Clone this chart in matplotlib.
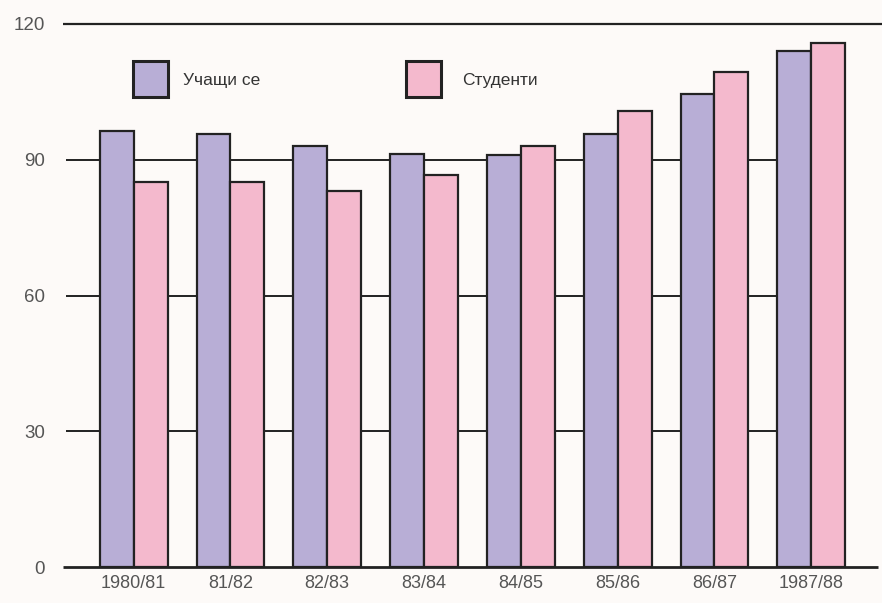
"""
Учащи се / Студенти, 1980/81 - 1987/88 (grouped bars)
"""

import matplotlib.pyplot as plt
from matplotlib.patches import Rectangle
import numpy as np

plt.rcParams['font.family'] = ['Liberation Sans', 'DejaVu Sans']

years = ["1980/81", "81/82", "82/83", "83/84", "84/85", "85/86", "86/87", "1987/88"]
ucasti = [96.4, 95.6, 93.0, 91.3, 91.0, 95.8, 104.5, 114.0]
studenti = [85.0, 85.0, 83.2, 86.6, 93.0, 100.8, 109.3, 115.8]
yticks = [0, 30, 60, 90, 120]
labels = ["Учащи се", "Студенти"]

purple = "#b8aed6"
pink = "#f4b9cd"
bg = "#fdfaf8"
grey = "#555555"

fig = plt.figure(figsize=(8.82, 6.03), dpi=100, facecolor=bg)
ax = fig.add_axes([63 / 882, 1 - 567 / 603, 815 / 882, 543 / 603])
ax.set_facecolor(bg)

x = np.arange(len(years))
w = 0.35
ax.bar(x - w / 2, ucasti, w, color=purple, edgecolor="#222222", linewidth=1.6, zorder=3)
ax.bar(x + w / 2, studenti, w, color=pink, edgecolor="#222222", linewidth=1.6, zorder=3)

ax.set_xlim(-0.73, 7.69)
ax.set_ylim(0, 120)

# grid lines stop where the last group starts
last_left = x[-1] - w
for t in yticks[1:-1]:
    ax.hlines(t, -0.7, last_left, color="#222222", linewidth=1.4, zorder=1)
ax.hlines(120, -0.73, 7.8, color="#222222", linewidth=1.6, zorder=1, clip_on=False)
ax.hlines(0, -0.73, 7.69, color="#222222", linewidth=2.0, zorder=4, clip_on=False)

for s in ax.spines.values():
    s.set_visible(False)

ax.set_yticks(yticks)
ax.set_yticklabels([str(t) for t in yticks], fontsize=13.5, color=grey)
ax.set_xticks(x)
ax.set_xticklabels(years, fontsize=13, color=grey)
ax.tick_params(axis="both", length=0)
ax.tick_params(axis="y", pad=21 - 8)
ax.tick_params(axis="x", pad=6)

# legend boxes
for x0, col, lab, tx in [(133, purple, labels[0], 183), (406, pink, labels[1], 462)]:
    ax.add_patch(Rectangle(((x0 - 63) / 815, (567 - 97) / 543), 35 / 815, 36 / 543,
                           transform=ax.transAxes, facecolor=col, edgecolor="#222222",
                           linewidth=2.2, zorder=5))
    ax.text((tx - 63) / 815, (567 - 80) / 543, lab, transform=ax.transAxes,
            fontsize=12.5, color="#333333", va="center", ha="left")

plt.savefig("out.png", dpi=100, facecolor=bg)
